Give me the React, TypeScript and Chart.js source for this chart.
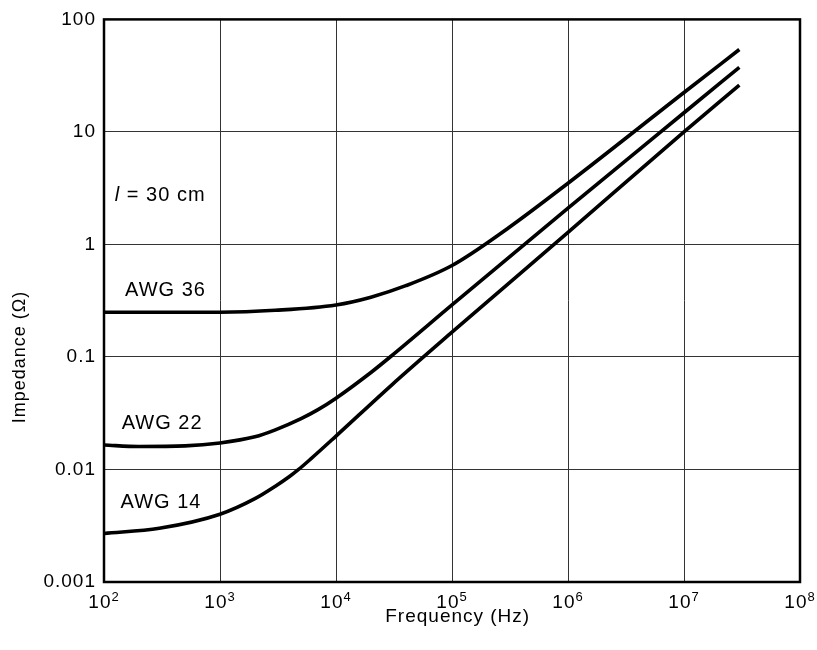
import { useEffect, useRef } from "react";
import { Chart, registerables } from "chart.js";

Chart.register(...registerables);

const X_TICKS = [1e2, 1e3, 1e4, 1e5, 1e6, 1e7, 1e8];
const X_TICK_BASE = "10";
const X_TICK_EXP = ["2", "3", "4", "5", "6", "7", "8"];
const Y_TICKS = [0.001, 0.01, 0.1, 1, 10, 100];
const Y_TICK_LABELS = ["0.001", "0.01", "0.1", "1", "10", "100"];

const X_TITLE = "Frequency (Hz)";
const Y_TITLE = "Impedance (Ω)";

const AWG36_FREQ = [1e2, 3e2, 1e3, 3e3, 1e4, 2e4, 4e4, 1e5, 3e5, 1e6, 1e7, 3e7];
const AWG36_Z = [0.25, 0.25, 0.25, 0.26, 0.29, 0.34, 0.43, 0.65, 1.38, 3.5, 22.4, 54];

const AWG22_FREQ = [1e2, 2e2, 5e2, 1e3, 2e3, 3e3, 5e3, 7e3, 1e4, 2e4, 3e4, 1e5, 1e6, 1e7, 3e7];
const AWG22_Z = [0.0165, 0.016, 0.0162, 0.0172, 0.0195, 0.0225, 0.0283, 0.034, 0.043, 0.0728, 0.102, 0.29, 2.1, 14.8, 37.5];

const AWG14_FREQ = [1e2, 3e2, 1e3, 2e3, 3e3, 4e3, 4.7e3, 6e3, 1e4, 3e4, 1e5, 1e6, 1e7, 3e7];
const AWG14_Z = [0.0027, 0.003, 0.004, 0.0055, 0.0071, 0.0087, 0.0099, 0.0123, 0.0198, 0.056, 0.166, 1.28, 10, 26];

const LABEL_TEXTS = ["AWG 36", "AWG 22", "AWG 14"];
const LABEL_FREQ = [152, 142, 139];
const LABEL_Z = [0.387, 0.0255, 0.00506];

const NOTE_SYMBOL = "l";
const NOTE_REST = " = 30 cm";
const NOTE_FREQ = 124;
const NOTE_Z = 2.7;

const FONT = "'Liberation Sans', Arial, sans-serif";

export default function App() {
  const ref = useRef<HTMLCanvasElement>(null);

  useEffect(() => {
    document.body.style.margin = "0";
    const canvas = ref.current;
    if (!canvas) return;
    const pts = (f: number[], z: number[]) => f.map((x, i) => ({ x, y: z[i] }));
    const line = (label: string, f: number[], z: number[]) => ({
      label,
      data: pts(f, z),
      borderColor: "#000",
      borderWidth: 3.6,
      pointRadius: 0,
      fill: false,
      cubicInterpolationMode: "monotone" as const,
    });

    const chart = new Chart(canvas, {
      type: "line",
      data: {
        datasets: [
          line("AWG 36", AWG36_FREQ, AWG36_Z),
          line("AWG 22", AWG22_FREQ, AWG22_Z),
          line("AWG 14", AWG14_FREQ, AWG14_Z),
        ],
      },
      options: {
        responsive: false,
        animation: false,
        devicePixelRatio: 1,
        layout: { padding: { top: 12, right: 17, left: 0, bottom: 0 } },
        plugins: { legend: { display: false }, tooltip: { enabled: false } },
        scales: {
          x: {
            type: "logarithmic",
            position: "bottom",
            min: 1e2,
            max: 1e8,
            afterBuildTicks: (s: any) => {
              s.ticks = X_TICKS.map((v) => ({ value: v }));
            },
            afterFit: (s: any) => {
              s.height = 68;
            },
            ticks: { display: false },
            grid: { color: "#333", lineWidth: 1, drawTicks: false },
            border: { display: false },
          },
          y: {
            type: "logarithmic",
            min: 0.001,
            max: 100,
            afterBuildTicks: (s: any) => {
              s.ticks = Y_TICKS.map((v) => ({ value: v }));
            },
            afterFit: (s: any) => {
              s.width = 104;
            },
            ticks: {
              autoSkip: false,
              padding: 8,
              color: "#000",
              font: { family: FONT, size: 19 },
              callback: (_v: any, i: number) => Y_TICK_LABELS[i],
            },
            grid: { color: "#333", lineWidth: 1, drawTicks: false },
            border: { display: false },
          },
        },
      },
      plugins: [
        {
          id: "spacing",
          beforeDraw(c: any) {
            c.ctx.letterSpacing = "1px";
          },
        },
        {
          id: "frame",
          afterDraw(c: any) {
            const { ctx, chartArea: a, scales } = c;
            ctx.save();
            ctx.strokeStyle = "#000";
            ctx.lineWidth = 2.5;
            ctx.strokeRect(a.left, a.top, a.right - a.left, a.bottom - a.top);

            ctx.fillStyle = "#000";

            // x tick labels with superscript exponents
            ctx.textBaseline = "alphabetic";
            ctx.textAlign = "left";
            X_TICKS.forEach((v, i) => {
              const px = scales.x.getPixelForValue(v);
              ctx.font = `19px ${FONT}`;
              const w1 = ctx.measureText(X_TICK_BASE).width;
              ctx.font = `13px ${FONT}`;
              const w2 = ctx.measureText(X_TICK_EXP[i]).width;
              const start = px - (w1 + w2) / 2;
              ctx.font = `19px ${FONT}`;
              ctx.fillText(X_TICK_BASE, start, a.bottom + 26);
              ctx.font = `13px ${FONT}`;
              ctx.fillText(X_TICK_EXP[i], start + w1, a.bottom + 19);
            });

            // x axis title
            ctx.textAlign = "center";
            ctx.font = `19px ${FONT}`;
            ctx.fillText(X_TITLE, scales.x.getPixelForValue(1.12e5), a.bottom + 40);

            ctx.textAlign = "left";
            ctx.textBaseline = "middle";
            ctx.font = `20px ${FONT}`;
            LABEL_TEXTS.forEach((t, i) => {
              ctx.fillText(
                t,
                scales.x.getPixelForValue(LABEL_FREQ[i]),
                scales.y.getPixelForValue(LABEL_Z[i])
              );
            });

            const nx = scales.x.getPixelForValue(NOTE_FREQ);
            const ny = scales.y.getPixelForValue(NOTE_Z);
            ctx.font = `italic 20px ${FONT}`;
            ctx.fillText(NOTE_SYMBOL, nx, ny);
            const w = ctx.measureText(NOTE_SYMBOL).width;
            ctx.font = `20px ${FONT}`;
            ctx.fillText(NOTE_REST, nx + w, ny);

            ctx.translate(20, scales.y.getPixelForValue(0.1));
            ctx.rotate(-Math.PI / 2);
            ctx.textAlign = "center";
            ctx.font = `18px ${FONT}`;
            ctx.fillText(Y_TITLE, 0, 0);
            ctx.restore();
          },
        },
      ],
    } as any);

    return () => chart.destroy();
  }, []);

  return <canvas ref={ref} width={817} height={650} style={{ display: "block" }} />;
}
